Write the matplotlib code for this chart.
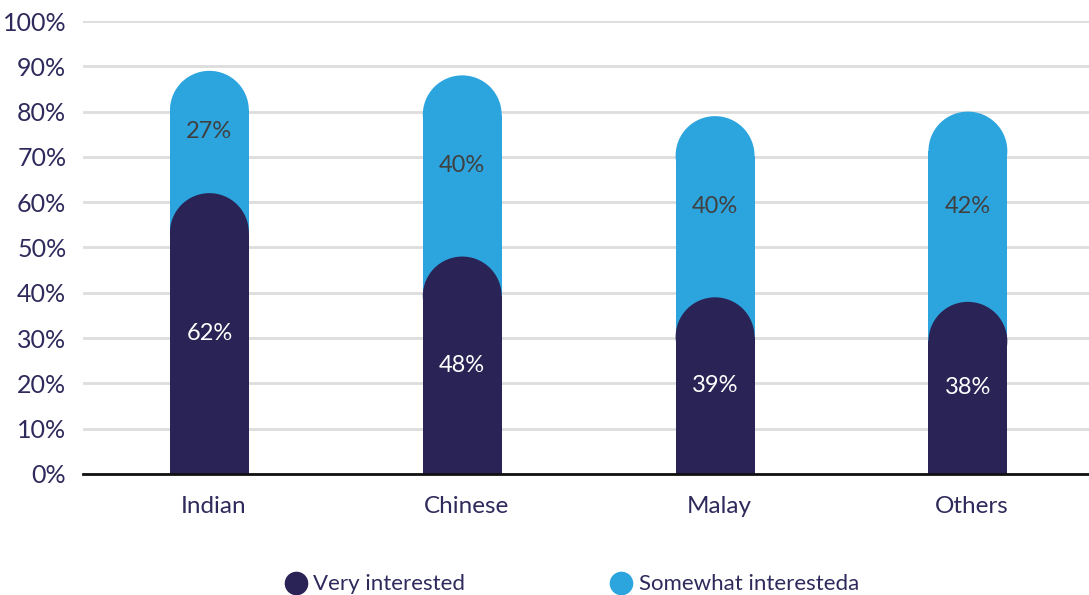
import matplotlib
matplotlib.use('Agg')
import matplotlib.pyplot as plt
import matplotlib.patches as patches
import matplotlib.transforms as mtransforms
from matplotlib.lines import Line2D

plt.rcParams['font.family'] = ['Lato', 'DejaVu Sans']

# datos
categorias = ['Indian', 'Chinese', 'Malay', 'Others']
muy_interesado = [62, 48, 39, 38]
algo_interesado = [27, 40, 40, 42]
series = ['Very interested', 'Somewhat interesteda']

color_oscuro = '#2A2356'
color_claro = '#2CA5DE'
color_texto = '#2E2A5C'

fig = plt.figure(figsize=(10.89, 5.95), dpi=100)
ax = fig.add_axes([0.0762, 0.2034, 0.9238, 0.7613])
x_min, x_max = -0.5, 3.479
ax.set_xlim(x_min, x_max)
ax.set_ylim(0, 100)

ancho = 0.312
# radio vertical en unidades de datos para que la tapa sea un semicirculo
bbox = ax.get_window_extent()
px_x = bbox.width / (x_max - x_min)
px_y = bbox.height / 100.0
rx = ancho / 2
ry = rx * px_x / px_y

def barra_redonda(x, alto, color):
    ax.bar(x, alto - ry, width=ancho, color=color, zorder=3, linewidth=0)
    elip = patches.Ellipse((x, alto - ry), 2 * rx, 2 * ry, facecolor=color,
                           edgecolor='none', zorder=3)
    ax.add_patch(elip)

for i, cat in enumerate(categorias):
    total = muy_interesado[i] + algo_interesado[i]
    barra_redonda(i, total, color_claro)
    barra_redonda(i, muy_interesado[i], color_oscuro)
    ax.text(i, muy_interesado[i] + algo_interesado[i] / 2, f"{algo_interesado[i]}%",
            ha='center', va='center', color='#404040', fontsize=17, zorder=4)
    ax.text(i, muy_interesado[i] / 2, f"{muy_interesado[i]}%",
            ha='center', va='center', color='white', fontsize=17, zorder=4)

ax.set_yticks(range(0, 101, 10))
ax.set_yticklabels([f"{v}%" for v in range(0, 101, 10)])
ax.set_xticks(range(len(categorias)))
ax.set_xticklabels(categorias)
ax.tick_params(axis='y', length=0, pad=12, labelsize=18, labelcolor=color_texto)
ax.tick_params(axis='x', length=0, pad=16, labelsize=17.5, labelcolor=color_texto)
# las etiquetas del eje x estan un poco a la derecha de las barras
desplaza = mtransforms.ScaledTranslation(4 / 100, 0, fig.dpi_scale_trans)
for etiq in ax.get_xticklabels():
    etiq.set_transform(etiq.get_transform() + desplaza)
ax.yaxis.grid(True, color='#DDDDDD', linewidth=2)
ax.set_axisbelow(True)
for lado in ['top', 'right', 'left']:
    ax.spines[lado].set_visible(False)
ax.spines['bottom'].set_linewidth(2)
ax.spines['bottom'].set_color('#111111')
ax.spines['bottom'].set_zorder(5)

handles = [Line2D([0], [0], marker='o', color='none', markerfacecolor=color_oscuro,
                  markeredgecolor='none', markersize=17),
           Line2D([0], [0], marker='o', color='none', markerfacecolor=color_claro,
                  markeredgecolor='none', markersize=17)]
leg = fig.legend(handles, series, loc='center', bbox_to_anchor=(0.525, 0.018), ncol=2,
                 frameon=False, fontsize=16, handletextpad=0.3, columnspacing=6.5,
                 handlelength=1.0)
for t in leg.get_texts():
    t.set_color(color_texto)

fig.savefig('out.png', dpi=100)
